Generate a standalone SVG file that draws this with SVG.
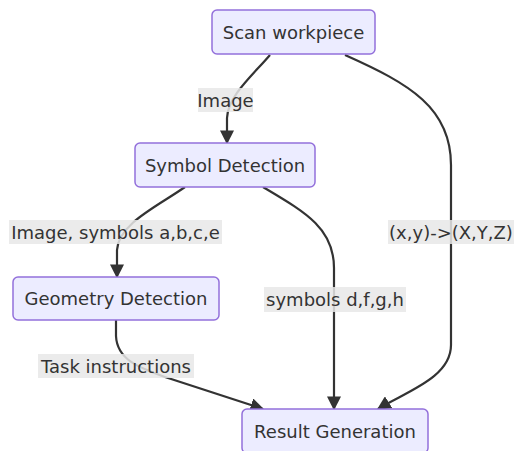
<svg xmlns="http://www.w3.org/2000/svg" width="514" height="451" viewBox="0 0 514 451">
<style>
.node rect{fill:#ECECFF;stroke:#9370DB;stroke-width:1.5}
text{font-family:"DejaVu Sans",sans-serif;font-size:18px;fill:#333;text-anchor:middle}
.edge{fill:none;stroke:#333;stroke-width:2.2}
.lbl rect{fill:#e8e8e8;opacity:0.85}
</style>
<defs>
<marker id="arr" viewBox="0 0 10 10" refX="9" refY="5" markerUnits="userSpaceOnUse" markerWidth="14" markerHeight="14" orient="auto">
<path d="M0,0 L10,5 L0,10 z" fill="#333"/>
</marker>
</defs>
<rect width="514" height="451" fill="#fff"/>
<g id="edges">
<path class="edge" d="M270,55 C252,76 228,96 227,118 L227,143" marker-end="url(#arr)"/>
<path class="edge" d="M345,55 C410,84 451,108 451,165 L451,345 C451,378 405,392 378,409" marker-end="url(#arr)"/>
<path class="edge" d="M185,187 C158,206 118,224 117,250 L117,277" marker-end="url(#arr)"/>
<path class="edge" d="M263,187 C305,212 334,228 334,268 L334,409" marker-end="url(#arr)"/>
<path class="edge" d="M116,320 L116,336 C117,360 140,368 165,377 L263,409" marker-end="url(#arr)"/>
</g>
<g id="labels">
<g class="lbl"><rect x="198" y="88" width="55" height="24"/><text x="225.5" y="106.5">Image</text></g>
<g class="lbl"><rect x="9" y="220" width="213" height="24"/><text x="115.5" y="238.5">Image, symbols a,b,c,e</text></g>
<g class="lbl"><rect x="264" y="287" width="142" height="25"/><text x="335" y="305.5">symbols d,f,g,h</text></g>
<g class="lbl"><rect x="388" y="220" width="126" height="24"/><text x="451" y="238.5">(x,y)-&gt;(X,Y,Z)</text></g>
<g class="lbl"><rect x="38" y="354" width="156" height="24"/><text x="116" y="372.5">Task instructions</text></g>
</g>
<g id="scan" class="node"><rect x="212" y="10" width="163" height="44" rx="5"/><text x="293.5" y="38.5">Scan workpiece</text></g>
<g id="symbol" class="node"><rect x="135" y="143" width="180" height="44" rx="5"/><text x="225" y="171.5">Symbol Detection</text></g>
<g id="geometry" class="node"><rect x="13" y="277" width="206" height="43" rx="5"/><text x="116" y="305">Geometry Detection</text></g>
<g id="result" class="node"><rect x="242" y="409" width="186" height="44" rx="5"/><text x="335" y="438">Result Generation</text></g>
</svg>
